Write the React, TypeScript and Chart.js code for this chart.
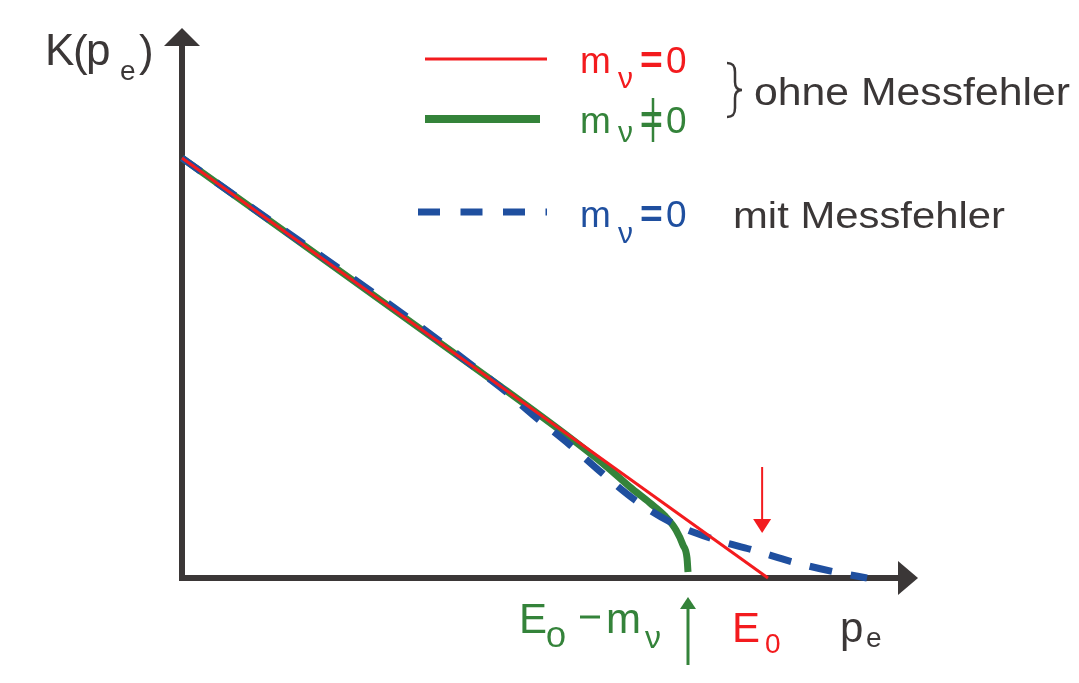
import React, { useEffect, useRef } from "react";
import { Chart, registerables } from "chart.js";

Chart.register(...registerables);

// ---- data (normalised: K(0)=1, E0=1) ----
const redX = [0, 1];
const redY = [1, 0];

const greenX = [0, 0.5427, 0.6672, 0.7253, 0.7645, 0.7986, 0.8242, 0.843, 0.8549, 0.8618, 0.8635];
const greenY = [1, 0.4571, 0.3286, 0.2643, 0.2167, 0.1786, 0.1476, 0.1143, 0.0786, 0.0476, 0.0143];

const blueX = [0, 0.5427, 0.599, 0.6621, 0.7167, 0.773, 0.8362, 0.901, 0.9744, 1.0427, 1.1143, 1.169];
const blueY = [1, 0.4548, 0.3881, 0.3167, 0.25, 0.1857, 0.131, 0.0952, 0.0667, 0.0381, 0.0143, 0];

const X_MAX = 1.256;
const Y_MAX = 1.3095;
const E0_MARK = 0.99;

const RED = "#f31b1e";
const GREEN = "#34833a";
const BLUE = "#1f4f9f";
const GRAY = "#3b3737";
const FONT = '"Liberation Sans", Arial, sans-serif';

const toPts = (xs: number[], ys: number[]) => xs.map((x, i) => ({ x, y: ys[i] }));

function txt(ctx: CanvasRenderingContext2D, s: string, x: number, y: number, size: number, color: string, width?: number, weight = "normal") {
  ctx.save();
  ctx.font = `${weight} ${size}px ${FONT}`;
  ctx.fillStyle = color;
  ctx.textBaseline = "alphabetic";
  ctx.textAlign = "left";
  if (width) {
    const w = ctx.measureText(s).width;
    ctx.translate(x, y);
    ctx.scale(width / w, 1);
    ctx.fillText(s, 0, 0);
  } else {
    ctx.fillText(s, x, y);
  }
  ctx.restore();
}

function arrow(ctx: CanvasRenderingContext2D, x: number, yFrom: number, yTip: number, color: string, lw: number, hw: number, hl: number) {
  const dir = yTip > yFrom ? 1 : -1;
  ctx.save();
  ctx.strokeStyle = color;
  ctx.fillStyle = color;
  ctx.lineWidth = lw;
  ctx.beginPath();
  ctx.moveTo(x, yFrom);
  ctx.lineTo(x, yTip - dir * hl * 0.8);
  ctx.stroke();
  ctx.beginPath();
  ctx.moveTo(x, yTip);
  ctx.lineTo(x - hw, yTip - dir * hl);
  ctx.lineTo(x + hw, yTip - dir * hl);
  ctx.closePath();
  ctx.fill();
  ctx.restore();
}

const decor = {
  id: "kurieDecor",
  beforeDatasetsDraw(chart: any) {
    const { ctx, chartArea, scales } = chart;
    const x0 = scales.x.getPixelForValue(0);
    const y0 = scales.y.getPixelForValue(0);
    ctx.save();
    ctx.strokeStyle = GRAY;
    ctx.fillStyle = GRAY;
    ctx.lineWidth = 6;
    ctx.lineCap = "butt";
    // x axis
    ctx.beginPath();
    ctx.moveTo(x0 - 3, y0);
    ctx.lineTo(chartArea.right - 14, y0);
    ctx.stroke();
    ctx.beginPath();
    ctx.moveTo(chartArea.right, y0);
    ctx.lineTo(chartArea.right - 20, y0 - 17);
    ctx.lineTo(chartArea.right - 20, y0 + 17);
    ctx.closePath();
    ctx.fill();
    // y axis
    ctx.beginPath();
    ctx.moveTo(x0, y0 + 3);
    ctx.lineTo(x0, chartArea.top + 14);
    ctx.stroke();
    ctx.beginPath();
    ctx.moveTo(x0, chartArea.top);
    ctx.lineTo(x0 - 18, chartArea.top + 18);
    ctx.lineTo(x0 + 18, chartArea.top + 18);
    ctx.closePath();
    ctx.fill();
    ctx.restore();
  },
  afterDatasetsDraw(chart: any) {
    const { ctx, scales } = chart;
    // axis labels
    txt(ctx, "K", 45, 65, 44, GRAY);
    txt(ctx, "(", 73, 66, 44, GRAY);
    txt(ctx, "p", 86, 65, 44, GRAY);
    txt(ctx, "e", 120, 80, 28, GRAY);
    txt(ctx, ")", 139, 66, 44, GRAY);

    txt(ctx, "p", 840, 642, 42, GRAY);
    txt(ctx, "e", 866, 647, 28, GRAY);

    // E0 - m_nu
    txt(ctx, "E", 519, 633, 42, GREEN);
    txt(ctx, "0", 546, 647, 30, GREEN, 20);
    ctx.save();
    ctx.strokeStyle = GREEN;
    ctx.lineWidth = 3;
    ctx.beginPath();
    ctx.moveTo(580, 617);
    ctx.lineTo(600, 617);
    ctx.stroke();
    ctx.restore();
    txt(ctx, "m", 606, 633, 42, GREEN);
    txt(ctx, "ν", 645, 648, 32, GREEN);
    txt(ctx, "E", 732, 642, 42, RED);
    txt(ctx, "0", 765, 653, 28, RED);

    // annotation arrows
    const xr = scales.x.getPixelForValue(E0_MARK);
    arrow(ctx, xr, 467, 533, RED, 2, 9, 14);
    const xg = scales.x.getPixelForValue(greenX[greenX.length - 1]);
    arrow(ctx, xg, 665, 597, GREEN, 3, 8, 12);

    // legend samples
    ctx.save();
    ctx.strokeStyle = RED;
    ctx.lineWidth = 3;
    ctx.beginPath();
    ctx.moveTo(425, 59);
    ctx.lineTo(547, 59);
    ctx.stroke();
    ctx.strokeStyle = GREEN;
    ctx.lineWidth = 8;
    ctx.beginPath();
    ctx.moveTo(425, 119);
    ctx.lineTo(540, 119);
    ctx.stroke();
    ctx.strokeStyle = BLUE;
    ctx.lineWidth = 7;
    ctx.setLineDash([22, 20.5]);
    ctx.beginPath();
    ctx.moveTo(418, 212);
    ctx.lineTo(547, 212);
    ctx.stroke();
    ctx.restore();

    // legend labels
    const rows: [number, number, string, boolean][] = [
      [73, 88, RED, false],
      [133, 142, GREEN, true],
      [227, 243, BLUE, false],
    ];
    rows.forEach(([base, nuBase, col, neq]) => {
      txt(ctx, "m", 580, base, 37, col);
      txt(ctx, "ν", 618, nuBase, 30, col);
      txt(ctx, "=", 640, base, 39, col, undefined, "bold");
      txt(ctx, "0", 666, base, 37, col);
      if (neq) {
        ctx.save();
        ctx.strokeStyle = col;
        ctx.lineWidth = 2.5;
        ctx.beginPath();
        ctx.moveTo(653, 98);
        ctx.lineTo(653, 142);
        ctx.stroke();
        ctx.restore();
      }
    });

    // brace
    ctx.save();
    ctx.strokeStyle = GRAY;
    ctx.lineWidth = 2.5;
    ctx.beginPath();
    ctx.moveTo(727, 63);
    ctx.bezierCurveTo(733, 63, 735, 66, 735, 72);
    ctx.lineTo(735, 82);
    ctx.bezierCurveTo(735, 87, 737, 90, 742, 90);
    ctx.bezierCurveTo(737, 90, 735, 93, 735, 98);
    ctx.lineTo(735, 108);
    ctx.bezierCurveTo(735, 114, 733, 117, 727, 117);
    ctx.stroke();
    ctx.restore();

    txt(ctx, "ohne Messfehler", 754, 105, 38, GRAY, 316);
    txt(ctx, "mit Messfehler", 733, 228, 36, GRAY, 272);
  },
};

export default function App() {
  const ref = useRef<HTMLCanvasElement | null>(null);
  useEffect(() => {
    if (!ref.current) return;
    const chart = new Chart(ref.current, {
      type: "line",
      data: {
        datasets: [
          {
            label: "mν=0",
            data: toPts(redX, redY),
            borderColor: RED,
            borderWidth: 3,
            pointRadius: 0,
            tension: 0,
            clip: false,
            order: 0,
          },
          {
            label: "mν=0 mit Messfehler",
            data: toPts(blueX, blueY),
            borderColor: BLUE,
            borderWidth: 7,
            borderDash: [23, 19],
            pointRadius: 0,
            cubicInterpolationMode: "monotone",
            clip: false,
            order: 1,
          },
          {
            label: "mν≠0",
            data: toPts(greenX, greenY),
            borderColor: GREEN,
            borderWidth: 7,
            pointRadius: 0,
            cubicInterpolationMode: "monotone",
            clip: false,
            order: 2,
          },
        ],
      },
      options: {
        animation: false,
        responsive: false,
        devicePixelRatio: 1,
        layout: { padding: { left: 182, right: 161, top: 28, bottom: 105 } },
        scales: {
          x: { type: "linear", min: 0, max: X_MAX, display: false },
          y: { type: "linear", min: 0, max: Y_MAX, display: false },
        },
        plugins: { legend: { display: false }, tooltip: { enabled: false } },
        events: [],
      },
      plugins: [decor],
    } as any);
    return () => chart.destroy();
  }, []);
  return (
    <canvas
      ref={ref}
      width={1079}
      height={683}
      style={{ position: "absolute", left: 0, top: 0, width: 1079, height: 683, background: "#fff" }}
    />
  );
}
